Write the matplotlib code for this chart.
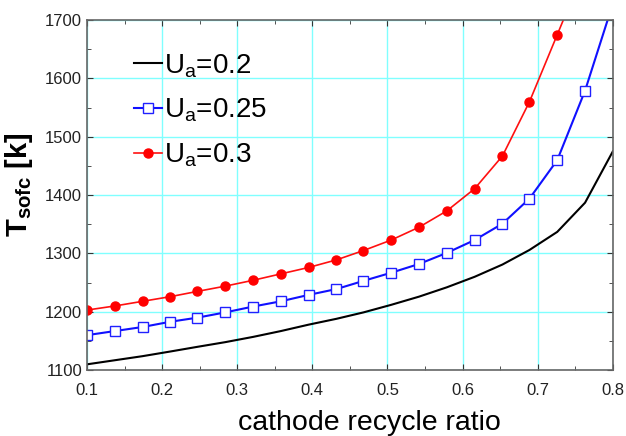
import numpy as np
import matplotlib.pyplot as plt
from matplotlib.ticker import MultipleLocator

plt.rcParams['font.family'] = ['Liberation Sans', 'DejaVu Sans']
plt.rcParams['mathtext.fontset'] = 'custom'
plt.rcParams['mathtext.rm'] = 'Liberation Sans'
plt.rcParams['mathtext.it'] = 'Liberation Sans:italic'
plt.rcParams['mathtext.bf'] = 'Liberation Sans:bold'

# data
ratio = [0.1, 0.137, 0.174, 0.211, 0.247, 0.284, 0.321, 0.358, 0.395, 0.432,
         0.468, 0.505, 0.542, 0.579, 0.616, 0.653, 0.689, 0.726, 0.763, 0.8]
t_u020 = [1110, 1117, 1124, 1132, 1140, 1148, 1157, 1167, 1178, 1188,
          1199, 1212, 1226, 1242, 1260, 1281, 1306, 1337, 1387, 1475]
t_u025 = [1160, 1167, 1174, 1183, 1190, 1199, 1209, 1218, 1229, 1239,
          1253, 1267, 1282, 1301, 1323, 1351, 1394, 1460, 1579, 1728]
t_u030 = [1203, 1210, 1218, 1226, 1235, 1244, 1254, 1265, 1276, 1289,
          1305, 1323, 1345, 1373, 1411, 1467, 1560, 1675, 1790]
labels = [r'U$_\mathrm{a}$=0.2', r'U$_\mathrm{a}$=0.25', r'U$_\mathrm{a}$=0.3']

fig = plt.figure(figsize=(6.26, 4.36), dpi=100)
ax = fig.add_axes([0.139, 0.151, 0.840, 0.803])

ax.plot(ratio, t_u020, color='black', lw=1.5, label=labels[0])
ax.plot(ratio, t_u025, color='#1010ff', lw=1.5, marker='s', ms=6.5,
        mfc='white', mec='#2020ff', mew=1.0, label=labels[1])
ax.plot(ratio[:len(t_u030)], t_u030, color='#ff1010', lw=1.2, marker='o',
        ms=6.5, mfc='red', mec='red', label=labels[2])

ax.set_xlim(0.1, 0.8)
ax.set_ylim(1100, 1700)
ax.xaxis.set_major_locator(MultipleLocator(0.1))
ax.xaxis.set_minor_locator(MultipleLocator(0.05))
ax.yaxis.set_major_locator(MultipleLocator(100))
ax.yaxis.set_minor_locator(MultipleLocator(50))
ax.grid(True, which='major', color='#80ffff', lw=1.0)
ax.set_axisbelow(True)
ax.tick_params(which='both', direction='in', top=True, right=True,
               labelsize=12, colors='#333333', labelcolor='#222222')
ax.tick_params(which='major', length=4)
ax.tick_params(which='minor', length=3)
ax.tick_params(axis='x', which='major', pad=9)
for s in ax.spines.values():
    s.set_color('#666666')
    s.set_linewidth(1.2)

ax.set_xlabel('cathode recycle ratio', fontsize=20.5)
ax.xaxis.set_label_coords(0.537, -0.113)
ax.set_ylabel(r'$\mathbf{T}_{\mathbf{sofc}}$ [k]', fontsize=21,
              fontweight='bold')
ax.yaxis.set_label_coords(-0.099, 0.53)

ax.legend(loc='upper left', bbox_to_anchor=(0.068, 0.94), frameon=False,
          fontsize=20, handlelength=1.0, handletextpad=0.08, labelspacing=0.62,
          borderaxespad=0)

fig.savefig('out.png', dpi=100)
